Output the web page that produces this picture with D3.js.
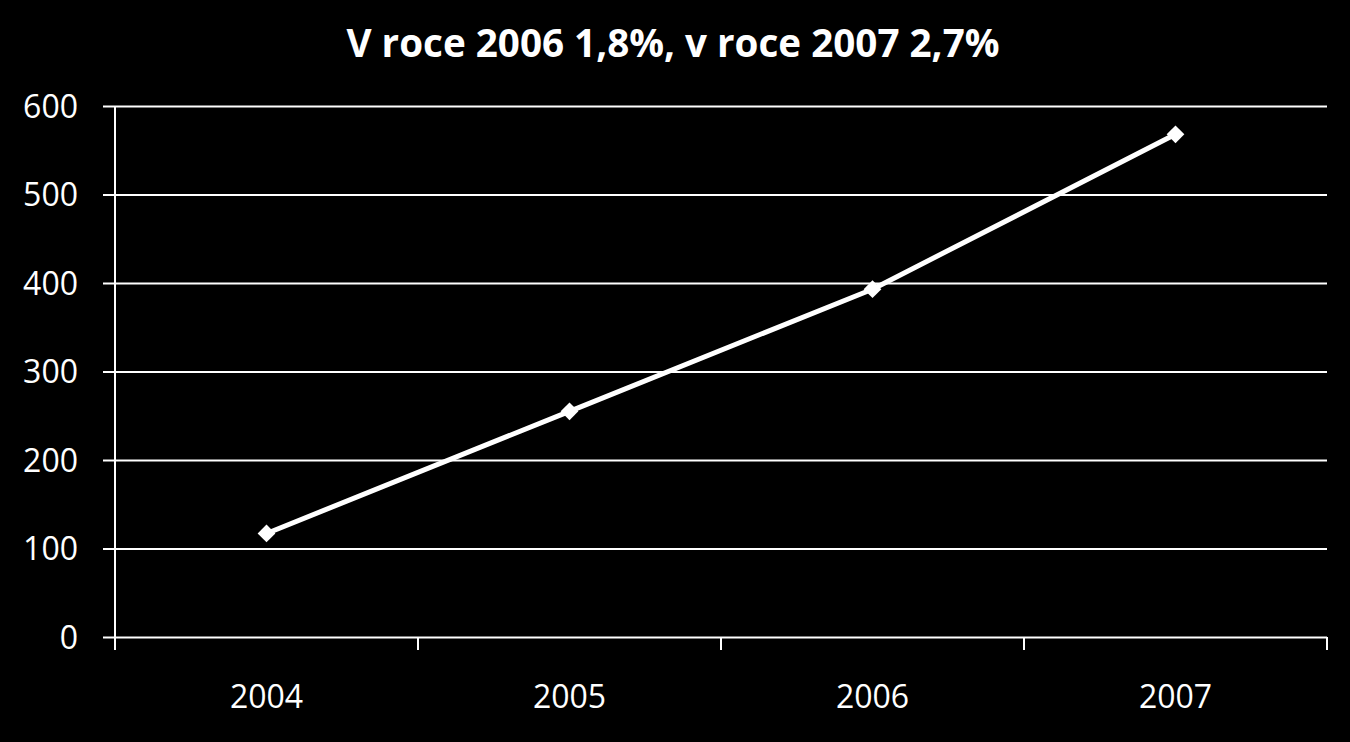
<!DOCTYPE html>
<html><head><meta charset="utf-8">
<script src="https://cdn.jsdelivr.net/npm/d3@7/dist/d3.min.js"></script>
<style>html,body{margin:0;padding:0;background:#000;}svg{display:block;}</style>
</head><body>
<svg id="c" width="1350" height="742"></svg>
<script>
const title = "V roce 2006 1,8%, v roce 2007 2,7%";
const categories = ["2004", "2005", "2006", "2007"];
const values = [117, 255, 393, 568];
const yTicks = [0, 100, 200, 300, 400, 500, 600];

const svg = d3.select("#c");
const W = 1350, H = 742;
const m = {left: 115, right: 23, top: 106, bottom: 105};
const x = d3.scaleBand().domain(categories).range([m.left, W - m.right]).paddingInner(0).paddingOuter(0);
const y = d3.scaleLinear().domain([0, 600]).range([H - m.bottom, m.top]);

svg.append("rect").attr("width", W).attr("height", H).attr("fill", "#000");

svg.append("text").attr("x", 673).attr("y", 57).attr("text-anchor", "middle")
  .attr("fill", "#fff").attr("font-family", "Open Sans").attr("font-weight", "bold")
  .attr("font-size", 39).attr("textLength", 653).attr("lengthAdjust", "spacingAndGlyphs").text(title);

// gridlines + y axis
const yAxis = d3.axisLeft(y).tickValues(yTicks).tickSize(-(W - m.right - m.left)).tickSizeOuter(0).tickPadding(24);
const gy = svg.append("g").attr("transform", `translate(${m.left},0)`).call(yAxis);
gy.select(".domain").remove();
gy.selectAll(".tick line").attr("stroke", "#fff").attr("stroke-width", 2).attr("x1", -12);
gy.selectAll(".tick text").attr("fill", "#fff").attr("font-family", "Open Sans").attr("font-size", 32).attr("dy", "0.35em").attr("x", -37);

// y axis line
svg.append("line").attr("x1", m.left).attr("x2", m.left).attr("y1", y(600)).attr("y2", y(0) + 13)
  .attr("stroke", "#fff").attr("stroke-width", 2);

// x axis ticks at band boundaries
const bounds = categories.map(c => x(c)).concat([x(categories[categories.length - 1]) + x.bandwidth()]);
svg.append("g").selectAll("line").data(bounds).join("line")
  .attr("x1", d => d).attr("x2", d => d).attr("y1", y(0)).attr("y2", y(0) + 13)
  .attr("stroke", "#fff").attr("stroke-width", 2);
svg.append("g").selectAll("text").data(categories).join("text")
  .attr("x", d => x(d) + x.bandwidth() / 2).attr("y", 708).attr("text-anchor", "middle")
  .attr("fill", "#fff").attr("font-family", "Open Sans").attr("font-size", 32).text(d => d);

// line
const pts = categories.map((c, i) => [x(c) + x.bandwidth() / 2, y(values[i])]);
svg.append("path").datum(pts).attr("d", d3.line()).attr("fill", "none")
  .attr("stroke", "#fff").attr("stroke-width", 5).attr("stroke-linejoin", "round");
svg.append("g").selectAll("path").data(pts).join("path")
  .attr("d", d3.symbol().type(d3.symbolDiamond2).size(200))
  .attr("transform", d => `translate(${d[0]},${d[1]})`).attr("fill", "#fff");
</script>
</body></html>
